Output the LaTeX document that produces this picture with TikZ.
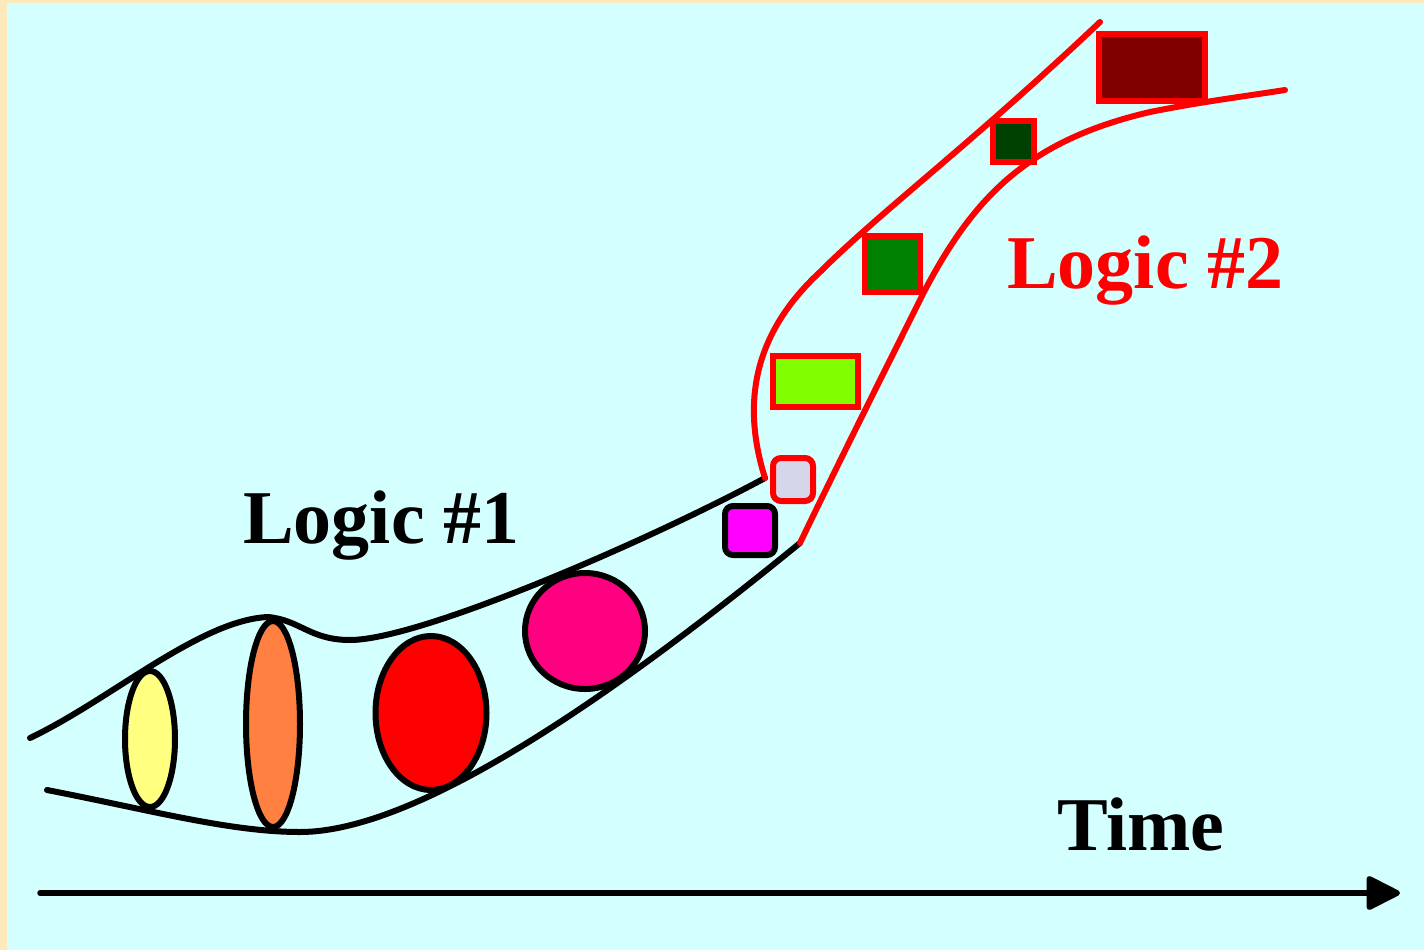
\documentclass[tikz,border=0pt]{standalone}
\usepackage{fontspec}
\setmainfont{Liberation Serif}
\usetikzlibrary{shapes.geometric,arrows.meta}
\definecolor{bgcyan}{HTML}{D4FFFF}
\definecolor{bgbeige}{HTML}{FDE9BC}
\definecolor{cyellow}{HTML}{FFFF80}
\definecolor{corange}{HTML}{FF8040}
\definecolor{cpink}{HTML}{FF0080}
\definecolor{cmagenta}{HTML}{FF00FF}
\definecolor{clav}{HTML}{D6D6EA}
\definecolor{clgreen}{HTML}{80FF00}
\definecolor{cgreen}{HTML}{008000}
\definecolor{cdgreen}{HTML}{004000}
\definecolor{cdred}{HTML}{800000}
\tikzset{
  blob/.style={ellipse, draw=black, line width=6pt, inner sep=0pt},
  redbox/.style={rectangle, draw=red, line width=6pt, inner sep=0pt},
  roundbox/.style={rectangle, rounded corners=8pt, line width=6pt, inner sep=0pt},
  tube/.style={line width=6pt, line cap=round},
  bigtext/.style={font=\fontsize{76}{90}\selectfont\bfseries, inner sep=0pt, anchor=base west}
}
\begin{document}
\begin{tikzpicture}[x=1pt,y=-1pt]
\useasboundingbox (0,0) rectangle (1424,950);
\fill[bgbeige] (0,0) rectangle (1424,950);
\fill[bgcyan] (7,3) rectangle (1424,950);

% junction coordinates
\coordinate (ua) at (30,738);
\coordinate (la) at (47,790);
\coordinate (uj) at (765,478);
\coordinate (lj) at (800,543);
\coordinate (ue) at (1100,22);
\coordinate (le) at (1285,90);

% black tube
\draw[tube] (ua) .. controls (110,700) and (200,620) .. (268,617)
  .. controls (300,620) and (310,640) .. (350,640)
  .. controls (420,640) and (650,540) .. (uj);
\draw[tube] (la) .. controls (150,810) and (230,832) .. (300,832)
  .. controls (420,832) and (620,690) .. (lj);

% red tube
\draw[tube, red] (uj) .. controls (742,405) and (752,335) .. (820,272)
  .. controls (880,212) and (970,145) .. (ue);
\draw[tube, red] (lj) .. controls (840,460) and (880,380) .. (925,290)
  .. controls (975,195) and (1030,140) .. (1150,112)
  .. controls (1200,102) and (1240,97) .. (le);

% ellipses
\node[blob, fill=cyellow, minimum width=50pt, minimum height=136pt] (e1) at (150,739) {};
\node[blob, fill=corange, minimum width=54pt, minimum height=206pt] (e2) at (273,724) {};
\node[blob, fill=red, minimum width=111pt, minimum height=154pt] (e3) at (431,713) {};
\node[blob, fill=cpink, minimum width=120pt, minimum height=116pt] (e4) at (585,631) {};

% rounded squares
\node[roundbox, draw=black, fill=cmagenta, minimum width=50pt, minimum height=49pt] (s1) at (750,530.5) {};
\node[roundbox, draw=red, fill=clav, minimum width=40pt, minimum height=43pt] (s2) at (793,479.5) {};

% red boxes
\node[redbox, fill=clgreen, minimum width=85pt, minimum height=51pt] (r1) at (815.5,381.5) {};
\node[redbox, fill=cgreen, minimum width=55pt, minimum height=56pt] (r2) at (892.5,264) {};
\node[redbox, fill=cdgreen, minimum width=41pt, minimum height=41pt] (r3) at (1013.5,141.5) {};
\node[redbox, fill=cdred, minimum width=106pt, minimum height=67pt] (r4) at (1152,67.5) {};

% labels
\node[bigtext] (l1) at (243,543) {Logic \#1};
\node[bigtext, text=red] (l2) at (1007,288) {Logic \#2};
\node[bigtext] (lt) at (1057,850) {Time};

% time axis
\coordinate (ts) at (40,893);
\coordinate (te) at (1400,893);
\draw[line width=5.5pt, line cap=round, -{Triangle[length=37pt,width=36pt,round]}] (ts) -- (te);
\end{tikzpicture}
\end{document}
